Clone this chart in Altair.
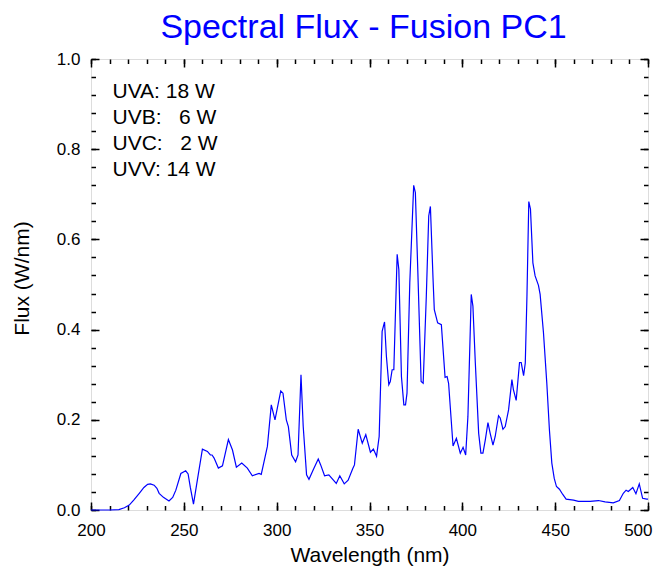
import altair as alt
import pandas as pd

wavelength = [200, 210, 215, 218, 220.6, 223, 226, 228.5, 230.5, 232, 234, 235.5, 236.7, 239, 242,
              244, 245.7, 248.4, 251, 252.3, 253.5, 255.2, 257.3, 260, 262.7, 264.3, 265.2, 266.3,
              268.6, 270.8, 274, 276.2, 278.3, 281.2, 284.2, 286.9, 290.5, 291.7, 295, 297.1, 299.1,
              302.2, 303.4, 305.2, 306.3, 308.1, 310.2, 311.5, 313.1, 314.3, 316.1, 317.4, 319.7,
              322.4, 323.7, 325.8, 328.1, 332.1, 334, 336.4, 338.5, 341, 341.9, 343.9, 346.1, 348,
              350.5, 352.1, 353.8, 355.2, 356.8, 358.1, 359.1, 360.4, 361.2, 362.2, 363.1, 364.9,
              365.8, 367.2, 368.5, 369.4, 370.2, 371.7, 373.8, 374.7, 376, 377.8, 378.9, 380.6,
              381.9, 382.8, 384.2, 384.9, 386.7, 388.7, 390.7, 391.8, 392.6, 395, 396.8, 398.9,
              400.4, 401.8, 403.0, 404.8, 405.7, 407, 408.8, 410, 411.1, 412.4, 413.8, 415, 416.5,
              417.7, 419.5, 420.4, 421.9, 423.1, 424.9, 426.7, 427.5, 429, 430.8, 431.7, 433, 433.9,
              434.8, 435.8, 436.7, 438, 439.2, 441, 441.9, 443.7, 445.5, 446.9, 448.2, 449.5, 450.7,
              452.3, 454, 455.9, 459.9, 462.5, 468.8, 473.3, 476.9, 481.3, 484.6, 486.7, 488.2,
              489.4, 491.8, 493.5, 495.3, 497.1, 499.3, 500]
flux = [0.0, 0.0, 0.001, 0.005, 0.011, 0.022, 0.037, 0.05, 0.057, 0.058, 0.055, 0.048, 0.037, 0.028, 0.020,
        0.028, 0.044, 0.081, 0.087, 0.080, 0.05, 0.013, 0.067, 0.135, 0.13, 0.122, 0.122, 0.115,
        0.093, 0.098, 0.156, 0.133, 0.095, 0.104, 0.093, 0.076, 0.081, 0.079, 0.141, 0.233, 0.20,
        0.264, 0.259, 0.20, 0.185, 0.122, 0.107, 0.122, 0.30, 0.185, 0.078, 0.068, 0.089,
        0.113, 0.10, 0.076, 0.078, 0.059, 0.076, 0.058, 0.066, 0.092, 0.10, 0.179, 0.148, 0.167,
        0.128, 0.135, 0.119, 0.163, 0.396, 0.417, 0.341, 0.278, 0.285, 0.311, 0.311, 0.567,
        0.533, 0.296, 0.233, 0.233, 0.259, 0.504, 0.72, 0.704, 0.533, 0.285, 0.281, 0.474,
        0.652, 0.673, 0.515, 0.444, 0.415, 0.411, 0.294, 0.296, 0.281, 0.142, 0.159, 0.126,
        0.139, 0.122, 0.207, 0.478, 0.452, 0.326, 0.17, 0.126, 0.126, 0.156, 0.194, 0.17, 0.144,
        0.163, 0.209, 0.204, 0.179, 0.185, 0.222, 0.289, 0.267, 0.243, 0.327, 0.327, 0.298, 0.326,
        0.474, 0.684, 0.667, 0.548, 0.519, 0.498, 0.478, 0.393, 0.281, 0.178, 0.104, 0.07, 0.052,
        0.046, 0.035, 0.024, 0.022, 0.019, 0.019, 0.021, 0.018, 0.016, 0.021, 0.037, 0.044,
        0.041, 0.05, 0.036, 0.058, 0.026, 0.024, 0.024]

x_major = [200, 250, 300, 350, 400, 450, 500]
x_labels_inner = [200, 250, 300, 350, 400, 450]
x_label_last = [500]
x_minor = list(range(200, 501, 10))
y_major = [0.0, 0.2, 0.4, 0.6, 0.8, 1.0]
y_minor = [round(i * 0.04, 2) for i in range(26)]

stats_lines = ["UVA: 18 W",
               "UVB:\u00a0\u00a0\u00a06 W",
               "UVC:\u00a0\u00a0\u00a02 W",
               "UVV: 14 W"]

FONT = "Liberation Sans"
W, H = 557, 451

df = pd.DataFrame({"wl": wavelength, "flux": flux})

xscale = alt.Scale(domain=[200, 500], nice=False, zero=False)
yscale = alt.Scale(domain=[0, 1], nice=False, zero=False)


def tick_axis(orient, values, size, offset):
    return alt.Axis(orient=orient, values=values, ticks=True, tickSize=size, tickWidth=1.5,
                    tickColor="black", labels=False, domain=False, grid=False, title=None,
                    offset=offset)


def line_layer(xaxis, yaxis, visible):
    return alt.Chart(df).mark_line(color="#0000ff", strokeWidth=1.2,
                                   opacity=1 if visible else 0).encode(
        x=alt.X("wl:Q", scale=xscale, axis=xaxis),
        y=alt.Y("flux:Q", scale=yscale, axis=yaxis),
    )


main_x = alt.Axis(orient="bottom", values=x_labels_inner, ticks=False, tickSize=0, domain=False,
                  grid=False, labelFont=FONT, labelFontSize=17, labelColor="black",
                  labelPadding=25, labelBaseline="alphabetic", labelFlush=False,
                  labelOverlap=False,
                  title="Wavelength (nm)", titleFont=FONT, titleFontSize=21,
                  titleFontWeight="normal", titleColor="black",
                  titleX=W / 2, titleY=51, titleBaseline="alphabetic")
last_x = alt.Axis(orient="bottom", values=x_label_last, ticks=False, tickSize=0, domain=False,
                  grid=False, labelFont=FONT, labelFontSize=17, labelColor="black",
                  labelPadding=25, labelBaseline="alphabetic", labelFlush=True,
                  labelFlushOffset=4, labelOverlap=False, title=None)
main_y = alt.Axis(orient="left", values=y_major, format=".1f", ticks=False, tickSize=0,
                  domain=False, grid=False, labelFont=FONT, labelFontSize=17,
                  labelColor="black", labelPadding=11, labelOverlap=False,
                  title="Flux (W/nm)", titleFont=FONT, titleFontSize=21,
                  titleFontWeight="normal", titleColor="black",
                  titleX=-63, titleY=219, titleBaseline="alphabetic")

layers = [
    line_layer(main_x, main_y, True),
    line_layer(tick_axis("top", x_major, 8, -H), tick_axis("right", y_major, 8, -W), False),
    line_layer(tick_axis("top", x_minor, 4.5, -H), tick_axis("right", y_minor, 4.5, -W), False),
    line_layer(tick_axis("bottom", x_major, 8, -H), tick_axis("left", y_major, 8, -W), False),
    line_layer(tick_axis("bottom", x_minor, 4.5, -H), tick_axis("left", y_minor, 4.5, -W), False),
    line_layer(last_x, None, False),
]

stats = alt.Chart(alt.Data(values=[{}])).mark_text(
    font=FONT, fontSize=21, color="black", align="left", baseline="alphabetic",
    lineHeight=26
).encode(
    x=alt.value(21.5),
    y=alt.value(38.5),
    text=alt.value(stats_lines),
)

chart = alt.layer(*layers, stats).resolve_scale(
    x="shared", y="shared"
).resolve_axis(
    x="independent", y="independent"
).properties(
    width=W,
    height=H,
    autosize=alt.AutoSizeParams(type="none"),
    padding={"left": 83, "top": 51, "right": 5, "bottom": 56},
    title=alt.TitleParams("Spectral Flux - Fusion PC1", fontSize=34, font=FONT,
                          fontWeight="normal", color="#0000ff", anchor="middle",
                          frame="group", baseline="alphabetic", offset=13, dx=-6, dy=35),
).configure_view(
    stroke="black", strokeWidth=2
).configure(
    background="white"
)

chart.save("out.html", embed_options={"renderer": "svg", "actions": False})
